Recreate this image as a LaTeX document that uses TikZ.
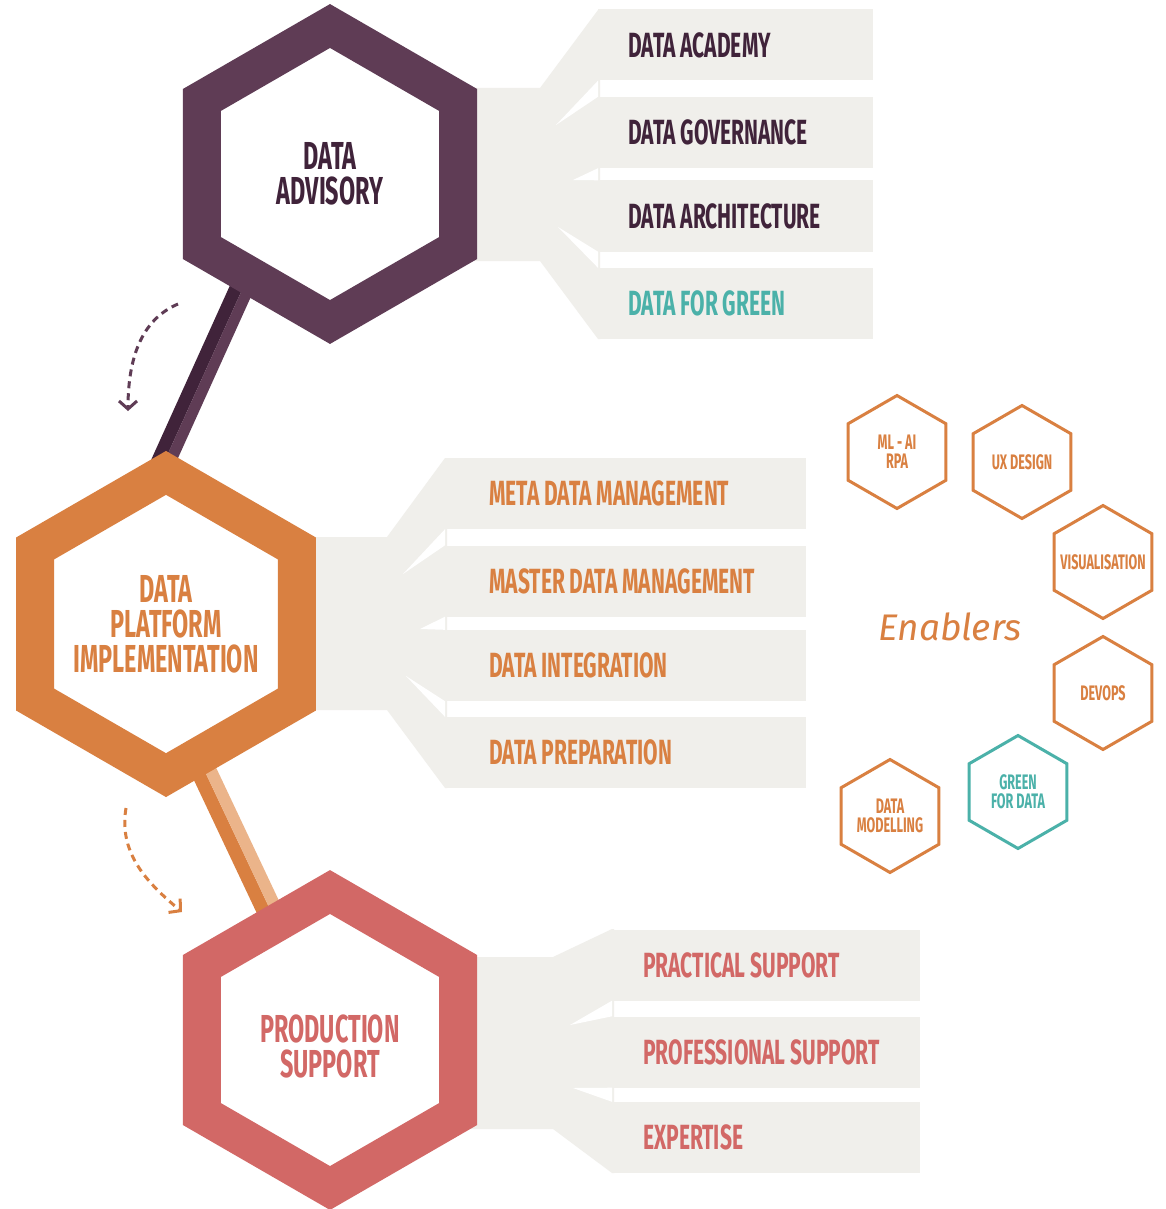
\documentclass[tikz,border=0pt]{standalone}
\usepackage{fontspec}
\usepackage{tikz}
\usetikzlibrary{shapes.geometric,positioning,arrows.meta}
\newfontfamily\condfont[FakeStretch=0.6]{Fira Sans}
\newfontfamily\handfont{Fira Sans}
\definecolor{advpurple}{RGB}{95,60,85}
\definecolor{advdark}{RGB}{64,35,58}
\definecolor{platorange}{RGB}{217,128,65}
\definecolor{platpeach}{RGB}{235,180,138}
\definecolor{prodred}{RGB}{210,104,102}
\definecolor{bargray}{RGB}{240,239,235}
\definecolor{greenteal}{RGB}{75,177,169}

\begin{document}
\begin{tikzpicture}[x=1pt,y=-1pt,
    hexbig/.style={regular polygon, regular polygon sides=6, regular polygon rotate=30,
        minimum size=296pt, line width=38pt, fill=white, inner sep=0pt, align=center,
        font=\condfont\bfseries\fontsize{39}{35}\selectfont},
    hexsmall/.style={regular polygon, regular polygon sides=6, regular polygon rotate=30,
        minimum size=113pt, line width=3pt, draw=platorange, fill=white, inner sep=0pt},
    enablertext/.style={inner sep=0pt, align=center, text=platorange,
        font=\condfont\bfseries\fontsize{21}{19}\selectfont},
    bar/.style={fill=bargray, minimum height=71pt, inner sep=0pt, anchor=west},
    bartext/.style={inner sep=0pt, font=\condfont\bfseries\fontsize{35}{35}\selectfont},
    dasharrow/.style={line width=3pt, dash pattern=on 7pt off 5pt,
        -{Straight Barb[length=8pt,width=18pt]}}]

\useasboundingbox[fill=white] (0,0) rectangle (1166,1209);

% stems between the hexagons
\coordinate (stemAtop) at (260,250);
\coordinate (stemAbot) at (147,500);
\draw[line width=12.8pt, advdark] ([xshift=-7pt]stemAtop) -- ([xshift=-7pt]stemAbot);
\draw[line width=11pt, advpurple] ([xshift=6pt]stemAtop) -- ([xshift=6pt]stemAbot);
\coordinate (stemBtop) at (190,740);
\coordinate (stemBbot) at (284.5,940);
\draw[line width=13.6pt, platorange] ([xshift=-7.5pt]stemBtop) -- ([xshift=-7.5pt]stemBbot);
\draw[line width=11.8pt, platpeach] ([xshift=6.5pt]stemBtop) -- ([xshift=6.5pt]stemBbot);

% fans
\fill[bargray] (470,88) -- (540,88) -- (598,10) -- (600,10) -- (600,339) -- (598,339) -- (540,261) -- (470,261) -- cycle;
\fill[bargray] (300,537) -- (387,537) -- (445,458) -- (447,458) -- (447,788) -- (445,788) -- (387,710) -- (300,710) -- cycle;
\fill[bargray] (470,957) -- (553,957) -- (612,929) -- (614,929) -- (614,1173) -- (612,1173) -- (553,1129) -- (470,1129) -- cycle;

% bars of data advisory
\node[bar, minimum width=275pt] (academy) at (598,45) {};
\node[bar, minimum width=275pt] (governance) at (598,132.5) {};
\node[bar, minimum width=275pt] (architecture) at (598,216) {};
\node[bar, minimum width=275pt] (forgreen) at (598,303.5) {};
\fill[white] (556,125) -- (academy.south west) -- (governance.north west) -- cycle;
\fill[white] (573,180) -- (governance.south west) -- (architecture.north west) -- cycle;
\fill[white] (558,227) -- (architecture.south west) -- (forgreen.north west) -- cycle;
\node[bartext, text=advdark, right=30pt of academy.west] {DATA ACADEMY};
\node[bartext, text=advdark, right=30pt of governance.west] {DATA GOVERNANCE};
\node[bartext, text=advdark, right=30pt of architecture.west] {DATA ARCHITECTURE};
\node[bartext, text=greenteal, right=30pt of forgreen.west] {DATA FOR GREEN};

% bars of data platform
\node[bar, minimum width=361pt] (metadata) at (445,493.5) {};
\node[bar, minimum width=361pt] (masterdata) at (445,581) {};
\node[bar, minimum width=361pt] (integration) at (445,665.5) {};
\node[bar, minimum width=361pt] (preparation) at (445,752.5) {};
\fill[white] (403,574) -- (metadata.south west) -- (masterdata.north west) -- cycle;
\fill[white] (420,629) -- (masterdata.south west) -- (integration.north west) -- cycle;
\fill[white] (406,676) -- (integration.south west) -- (preparation.north west) -- cycle;
\node[bartext, text=platorange, right=44pt of metadata.west] {META DATA MANAGEMENT};
\node[bartext, text=platorange, right=44pt of masterdata.west] {MASTER DATA MANAGEMENT};
\node[bartext, text=platorange, right=44pt of integration.west] {DATA INTEGRATION};
\node[bartext, text=platorange, right=44pt of preparation.west] {DATA PREPARATION};

% bars of production support
\node[bar, minimum width=308pt] (practical) at (612,965) {};
\node[bar, minimum width=308pt] (professional) at (612,1052) {};
\node[bar, minimum width=308pt] (expertise) at (612,1137.5) {};
\fill[white] (570,1025) -- (practical.south west) -- (professional.north west) -- cycle;
\fill[white] (573,1088) -- (professional.south west) -- (expertise.north west) -- cycle;
\node[bartext, text=prodred, right=31pt of practical.west] {PRACTICAL SUPPORT};
\node[bartext, text=prodred, right=31pt of professional.west] {PROFESSIONAL SUPPORT};
\node[bartext, text=prodred, right=31pt of expertise.west] {EXPERTISE};

% main hexagons
\node[hexbig, draw=advpurple, text=advdark] (advisory) at (330,174) {DATA\\ADVISORY};
\node[hexbig, draw=platorange, text=platorange] (platform) at (166,624) {DATA\\PLATFORM\\IMPLEMENTATION};
\node[hexbig, draw=prodred, text=prodred] (production) at (330,1040) {};
\node[text=prodred, align=center, inner sep=0pt, font=\condfont\bfseries\fontsize{39}{35}\selectfont,
    below=-25pt of production.center] (productiontext) {PRODUCTION\\SUPPORT};

% dashed arrows
\coordinate (arrAstart) at (178,304);
\coordinate (arrAend) at (128,411);
\draw[dasharrow, advpurple] (arrAstart) .. controls (145,318) and (128,352) .. (arrAend);
\coordinate (arrBstart) at (126,808);
\coordinate (arrBend) at (182,912);
\draw[dasharrow, platorange] (arrBstart) .. controls (118,855) and (150,885) .. (arrBend);

% enablers
\node[hexsmall, label={[enablertext]center:{ML - AI\\RPA}}] (mlai) at (897,452) {};
\node[hexsmall, label={[enablertext]center:UX DESIGN}] (uxdesign) at (1022,462) {};
\node[hexsmall, label={[enablertext]center:VISUALISATION}] (visual) at (1103,562) {};
\node[hexsmall, label={[enablertext]center:DEVOPS}] (devops) at (1103,693) {};
\node[hexsmall, draw=greenteal, label={[enablertext, text=greenteal]center:{GREEN\\FOR DATA}}] (greendata) at (1018,792) {};
\node[hexsmall, label={[enablertext]center:{DATA\\MODELLING}}] (modelling) at (890,816) {};
\node[text=platorange, font=\handfont\itshape\fontsize{37}{37}\selectfont] (enablers) at (950,627) {Enablers};

\end{tikzpicture}
\end{document}
